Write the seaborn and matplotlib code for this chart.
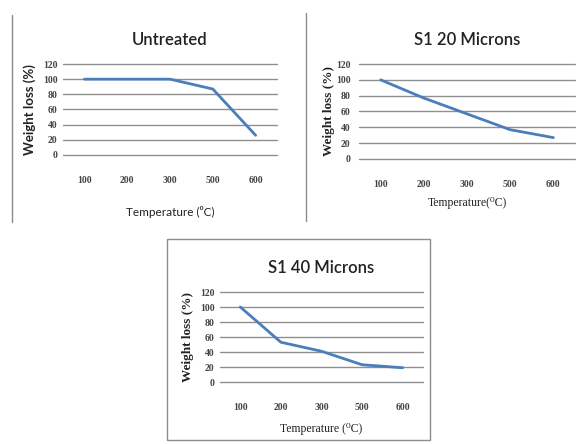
import matplotlib
matplotlib.use("Agg")
import matplotlib.pyplot as plt
import seaborn as sns
import pandas as pd
from matplotlib.lines import Line2D
from matplotlib.patches import Rectangle

# ---- data ----
temps_untreated = ["100", "200", "300", "500", "600"]
loss_untreated = [100, 100, 100, 87, 26]

temps_20 = ["100", "200", "300", "500", "600"]
loss_20 = [100, 77, 57, 37, 27]

temps_40 = ["100", "200", "300", "500", "600"]
loss_40 = [100, 53, 41, 23, 19]

y_ticks = [0, 20, 40, 60, 80, 100, 120]

titles = ["Untreated", "S1 20 Microns", "S1 40 Microns"]
xlabels = ["Temperature (\u2070C)", "Temperature(\u2070C)", "Temperature (\u2070C)"]
ylabel = "Weight loss (%)"

sns.set_theme(style="white")
plt.rcParams["font.family"] = ["DejaVu Sans"]

fig = plt.figure(figsize=(5.84, 4.44), dpi=100)
W, H = 584, 444

def fx(px):
    return px / W

def fy(py):
    return 1 - py / H

boxes = [
    (63, 277, 64, 155),
    (359, 575, 64, 159),
    (220, 423, 292, 382),
]
datasets = [
    (temps_untreated, loss_untreated),
    (temps_20, loss_20),
    (temps_40, loss_40),
]
line_color = "#4A7EBB"
grid_color = "#8f8f8f"
sans = ["Lato", "DejaVu Sans"]
serif = ["Liberation Serif", "DejaVu Serif"]
label_fams = [sans, serif, serif]
xlabel_pads = [15, 6, 8]
ylabel_pads = [5, 1, 4]
ytick_pads = [4, 6, 4]

for i, ((l, r, t, b), (cats, vals)) in enumerate(zip(boxes, datasets)):
    ax = fig.add_axes([fx(l), fy(b), fx(r) - fx(l), fy(t) - fy(b)])
    df = pd.DataFrame({"pos": list(range(len(cats))), "val": vals})
    sns.lineplot(data=df, x="pos", y="val", ax=ax, color=line_color,
                 linewidth=2.0, legend=False)
    ax.set_xlim(-0.5, len(cats) - 0.5)
    ax.set_ylim(0, 120)
    ax.set_yticks(y_ticks)
    ax.set_yticklabels([str(v) for v in y_ticks], fontsize=7,
                       family=serif, fontweight="bold", color="#444444")
    ax.set_xticks(range(len(cats)))
    ax.set_xticklabels(cats, fontsize=7, family=serif, fontweight="bold",
                       color="#444444")
    ax.set_xticks([k + 0.5 for k in range(len(cats))], minor=True)
    ax.tick_params(axis="x", which="major", length=0, pad=15)
    ax.tick_params(axis="x", which="minor", length=3, width=0.8,
                   color=grid_color, direction="out")
    ax.tick_params(axis="y", length=0, pad=ytick_pads[i])
    for yv in y_ticks:
        ax.axhline(yv, color=grid_color, linewidth=1.0, zorder=0,
                   clip_on=False)
    for s in ["top", "right", "left", "bottom"]:
        ax.spines[s].set_visible(False)
    ax.set_xlabel(xlabels[i], fontsize=8.5, family=label_fams[i],
                  labelpad=xlabel_pads[i], color="#222222")
    ax.set_ylabel(ylabel, fontsize=9.5, family=label_fams[i],
                  fontweight="bold", labelpad=ylabel_pads[i], color="#222222")
    ax.set_title(titles[i], fontsize=12, family=sans, fontweight="semibold",
                 pad=14, color="#222222")

# chart borders
fig.add_artist(Line2D([fx(12), fx(12)], [fy(15), fy(222)],
                      color="#8c8c8c", linewidth=1.0))
fig.add_artist(Line2D([fx(306), fx(306)], [fy(13), fy(221)],
                      color="#8c8c8c", linewidth=1.0))
fig.add_artist(Rectangle((fx(167), fy(440)), fx(430) - fx(167),
                         fy(239) - fy(440), fill=False,
                         edgecolor="#8c8c8c", linewidth=1.0))

fig.savefig("out.png", dpi=100, facecolor="white")
